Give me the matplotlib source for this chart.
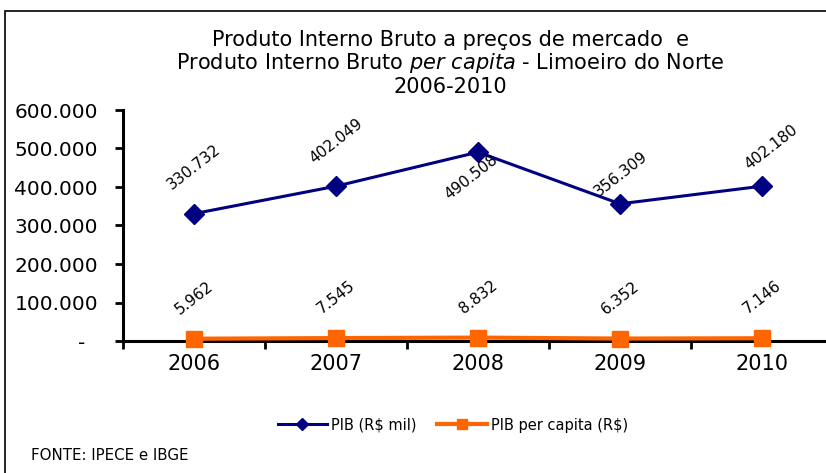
import matplotlib.pyplot as plt
from matplotlib.patches import Rectangle

plt.rcParams['font.family'] = ['DejaVu Sans']
plt.rcParams['mathtext.fontset'] = 'dejavusans'

# dados
anos = ['2006', '2007', '2008', '2009', '2010']
pib = [330732, 402049, 490508, 356309, 402180]
pib_pc = [5962, 7545, 8832, 6352, 7146]
yticks = [0, 100000, 200000, 300000, 400000, 500000, 600000]
ytick_labels = ['-  ', '100.000', '200.000', '300.000', '400.000', '500.000', '600.000']

def fmt(v):
    return '{:,}'.format(v).replace(',', '.')

W, H = 826, 473
fig = plt.figure(figsize=(W / 100, H / 100), dpi=100)

# moldura
fig.add_artist(Rectangle((5 / W, -0.2), 1.2, (H - 11) / H + 0.2, transform=fig.transFigure,
                         fill=False, edgecolor='black', linewidth=1.2, clip_on=False))

ax = fig.add_axes([123 / W, (H - 341) / H, 710 / W, 231 / H])
x = list(range(len(anos)))
ax.plot(x, pib, color='#000080', lw=2.2, marker='D', markersize=10, label='PIB (R$ mil)', clip_on=False, zorder=3)
ax.plot(x, pib_pc, color='#FF6600', lw=3, marker='s', markersize=11, label='PIB per capita (R$)', clip_on=False, zorder=3)

ax.set_xlim(-0.5, len(anos) - 0.5)
ax.set_ylim(0, 600000)
ax.set_yticks(yticks)
ax.set_yticklabels(ytick_labels, fontsize=14.5)
ax.set_xticks([i - 0.5 for i in range(len(anos) + 1)])
ax.set_xticklabels([])
ax.set_xticks(x, minor=True)
ax.set_xticklabels(anos, minor=True, fontsize=15)
ax.tick_params(axis='x', which='major', direction='out', length=6, width=2)
ax.tick_params(axis='x', which='minor', length=0, pad=9)
ax.tick_params(axis='y', direction='out', length=6, width=2, pad=12)
for s in ['top', 'right']:
    ax.spines[s].set_visible(False)
for s in ['left', 'bottom']:
    ax.spines[s].set_linewidth(2.2)
ax.patch.set_alpha(0)

# rótulos
off_pib = [(0, 47), (0, 45), (-7, -25), (1, 30), (9, 39)]
for i, v in enumerate(pib):
    ax.annotate(fmt(v), (i, v), xytext=off_pib[i], textcoords='offset pixels',
                ha='center', va='center', rotation=38, fontsize=11)
for i, v in enumerate(pib_pc):
    ax.annotate(fmt(v), (i, v), xytext=(0, 41), textcoords='offset pixels',
                ha='center', va='center', rotation=38, fontsize=11)

# título
cx = 450 / W
fig.text(cx, 1 - 40 / H, 'Produto Interno Bruto a preços de mercado  e', ha='center', va='center', fontsize=15)
fig.text(cx, 1 - 63 / H, r'Produto Interno Bruto $per\ capita$ - Limoeiro do Norte', ha='center', va='center', fontsize=15)
fig.text(cx, 1 - 87 / H, '2006-2010', ha='center', va='center', fontsize=15)

fig.legend(loc='center', bbox_to_anchor=(453 / W, 1 - 425 / H), ncol=2, frameon=False,
           fontsize=10.5, handlelength=3.4, columnspacing=1.4, handletextpad=0.3, markerscale=0.6)

fig.text(31 / W, 1 - 455 / H, 'FONTE: IPECE e IBGE', ha='left', va='center', fontsize=10.8)

fig.savefig('out.png', dpi=100)
